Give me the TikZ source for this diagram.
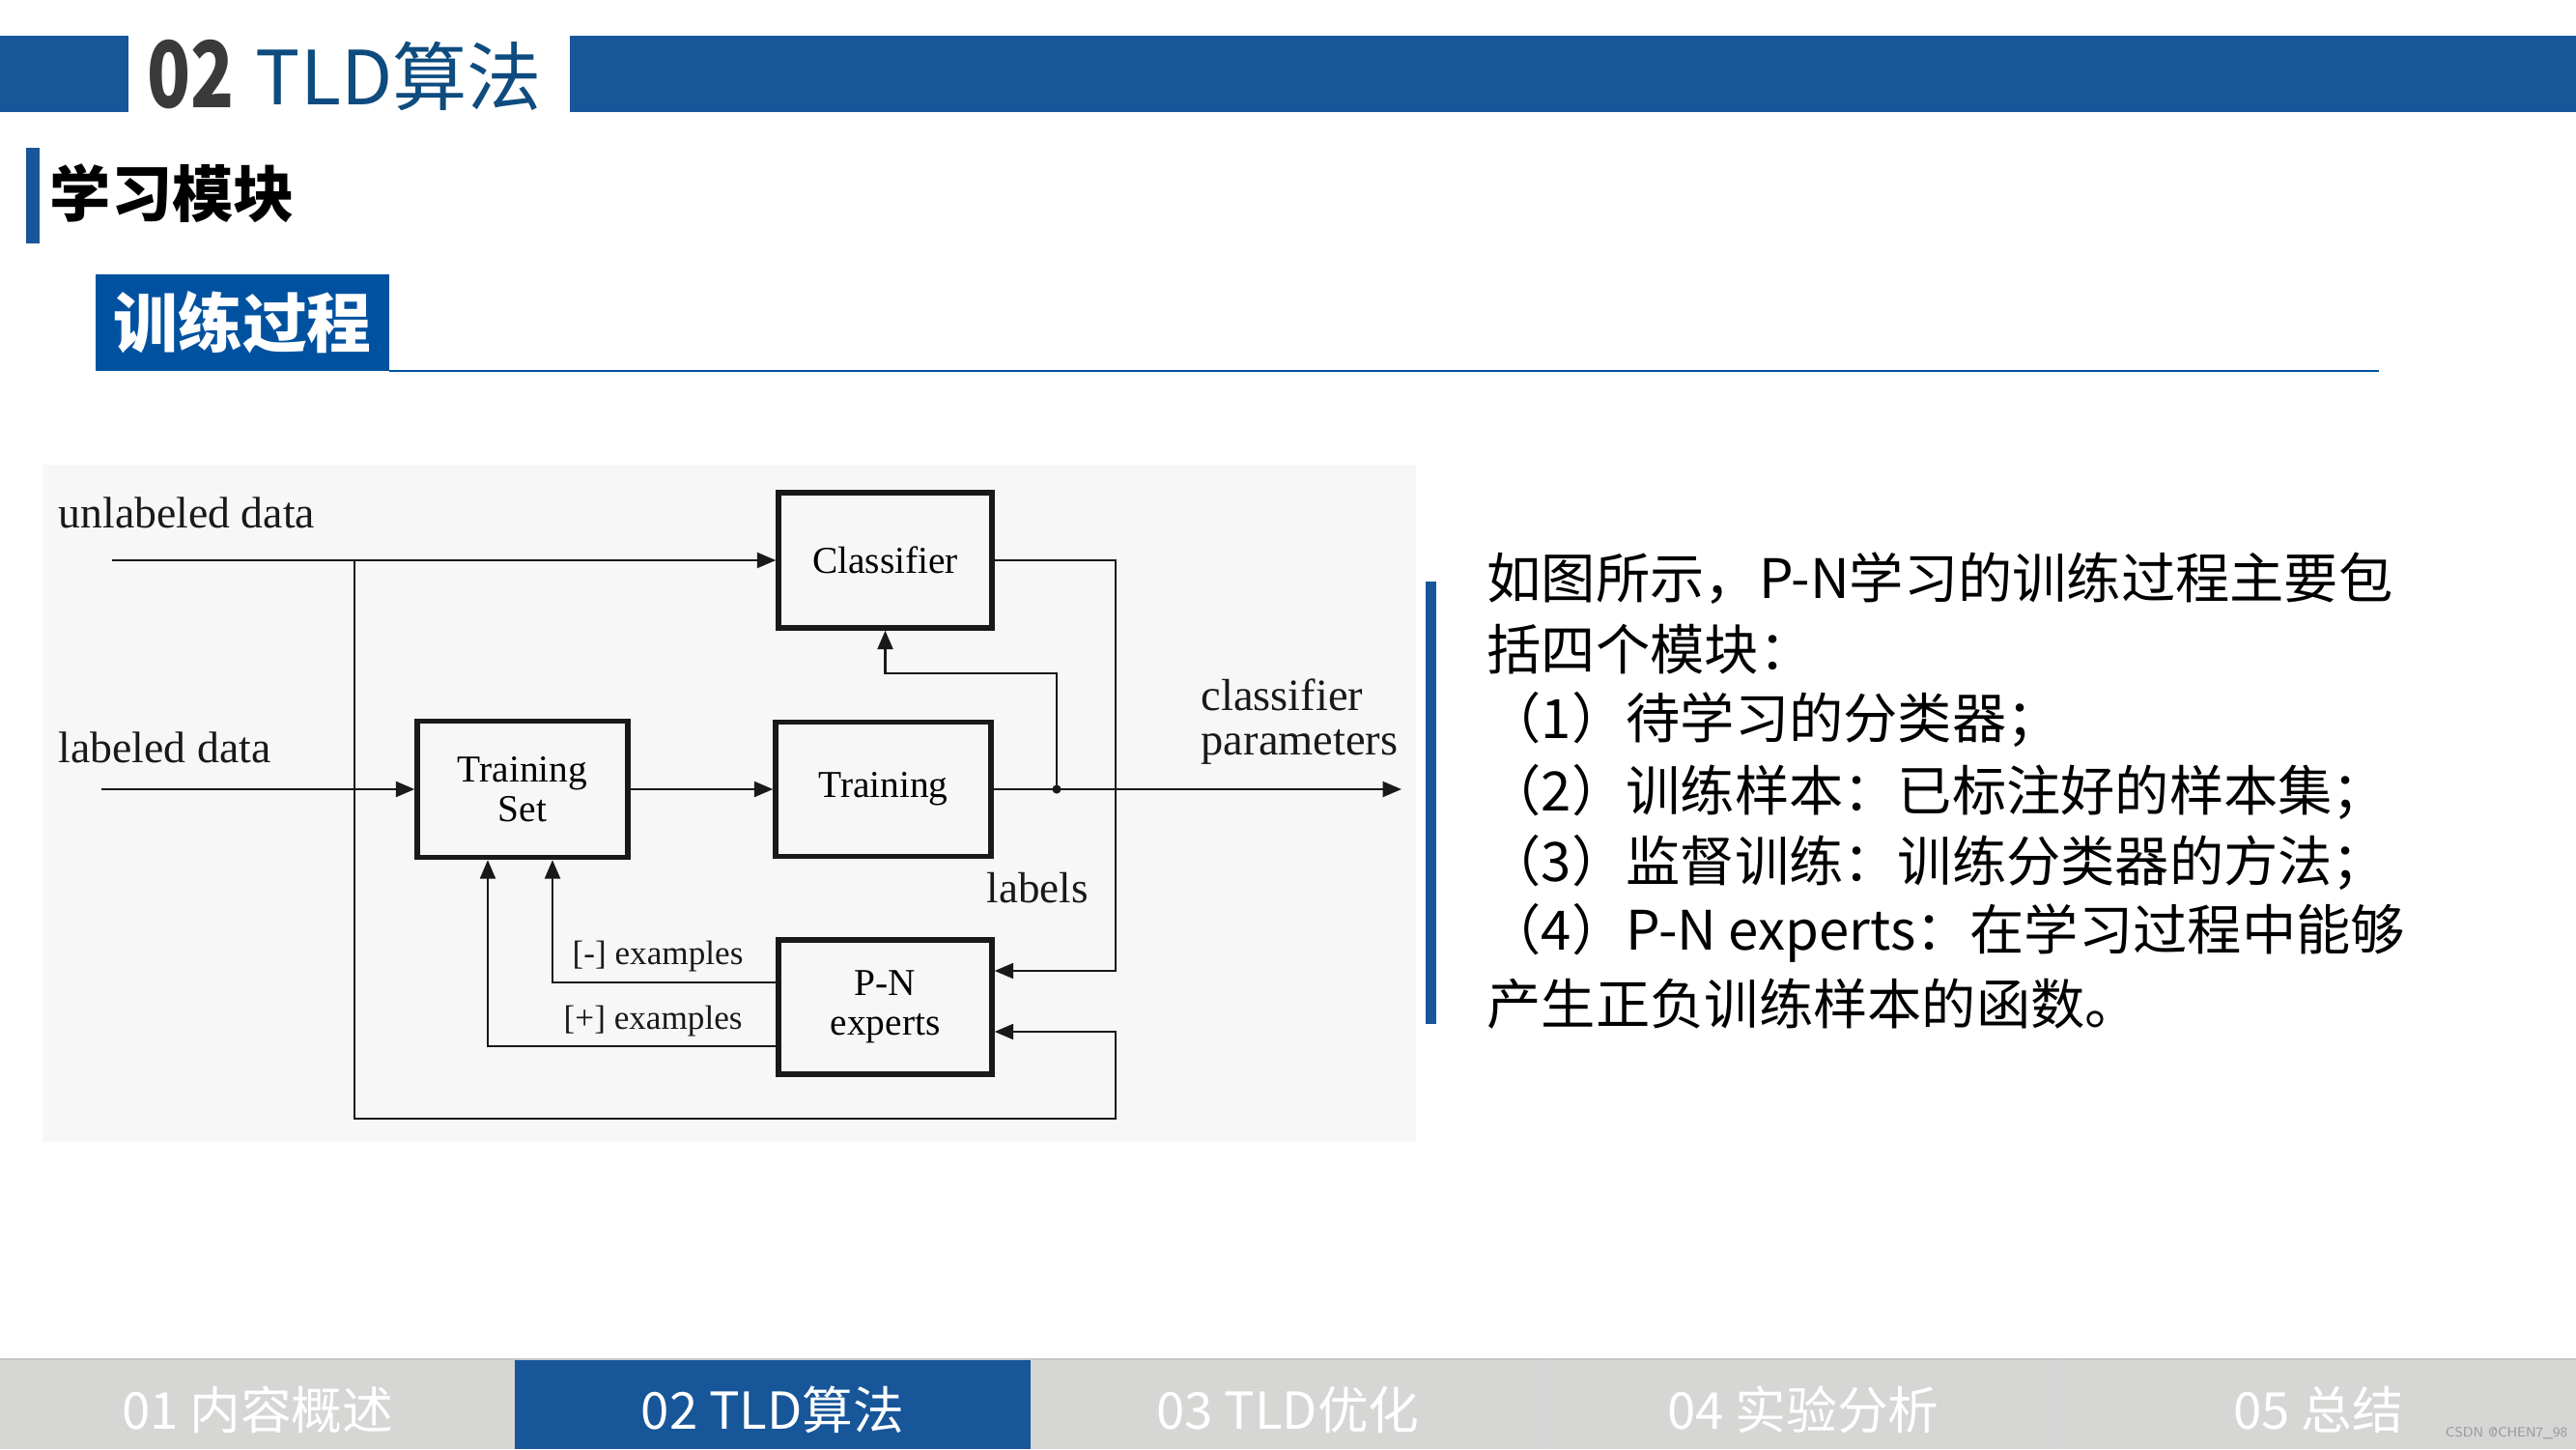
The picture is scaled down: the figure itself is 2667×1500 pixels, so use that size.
\documentclass[tikz,border=0pt]{standalone}
\usepackage{fontspec}
\setmainfont{Liberation Serif}
\newfontfamily\cjk{Noto Sans CJK SC}
\usetikzlibrary{arrows.meta}
\definecolor{barblue}{RGB}{24,86,154}
\definecolor{boxblue}{RGB}{0,82,160}
\definecolor{titleblue}{RGB}{14,76,127}
\definecolor{titlegray}{RGB}{58,58,58}
\definecolor{navgray}{RGB}{214,214,213}
\definecolor{diagbg}{RGB}{247,247,247}
\definecolor{ink}{RGB}{25,25,25}
\begin{document}
\begin{tikzpicture}[x=0.01cm,y=-0.01cm,
  blk/.style={draw=ink,line width=1.5pt,inner sep=0pt,align=center,font=\fontsize{11.2}{11.7}\selectfont},
  conn/.style={draw=ink,line width=0.7pt},
  arr/.style={conn,-{Triangle[length=5.5pt,width=4.5pt]}},
  lbl/.style={anchor=base west,inner sep=0pt,text=ink},
  para/.style={anchor=west,inner sep=0pt,font=\cjk\fontsize{16}{20}\selectfont,text=black},
  navtxt/.style={font=\cjk\fontsize{15}{18}\selectfont,text=white}]
\useasboundingbox (0,0) rectangle (2667,1500);
\fill[white] (0,0) rectangle (2667,1500);

% ---------- header ----------
\fill[barblue] (0,37) rectangle (133,116);
\fill[barblue] (590,37) rectangle (2667,116);
\node[anchor=base west,inner sep=0pt,text=titlegray,font=\cjk\bfseries\fontsize{27}{30}\selectfont,xscale=0.78] (num) at (152,112) {02};
\node[anchor=base west,inner sep=0pt,text=titleblue,font=\cjk\fontsize{22}{26}\selectfont] (title) at (264,109) {TLD算法};

\fill[barblue] (27,153) rectangle (41,252);
\node[anchor=west,inner sep=0pt,font=\cjk\bfseries\fontsize{18}{22}\selectfont] (sub) at (51,200) {学习模块};

\fill[boxblue] (99,284) rectangle (403,384);
\node[inner sep=0pt,text=white,font=\cjk\bfseries\fontsize{19}{22}\selectfont] (sec) at (251,334) {训练过程};
\draw[boxblue,line width=0.8pt] (403,384) -- (2463,384);

% ---------- diagram ----------
\fill[diagbg] (44,481) rectangle (1466,1182);

\node[blk,minimum width=2.21cm,minimum height=1.40cm] (cls) at (916.5,580) {Classifier};
\node[blk,minimum width=2.18cm,minimum height=1.41cm] (ts) at (541,817) {Training\\Set};
\node[blk,minimum width=2.23cm,minimum height=1.39cm] (tr) at (914.5,817) {Training};
\node[blk,minimum width=2.21cm,minimum height=1.39cm] (pn) at (916.5,1042.5) {P-N\\experts};

\node[lbl,font=\fontsize{13}{15}\selectfont] (ulab) at (60,546) {unlabeled data};
\node[lbl,font=\fontsize{13}{15}\selectfont] (llab) at (60,789) {labeled data};
\node[lbl,font=\fontsize{13.2}{15}\selectfont] (cp1) at (1243,735) {classifier};
\node[lbl,font=\fontsize{13.2}{15}\selectfont] (cp2) at (1243,781) {parameters};
\node[lbl,font=\fontsize{12.8}{15}\selectfont] (lab) at (1021,934) {labels};
\node[lbl,font=\fontsize{10}{12}\selectfont] (neg) at (592,998) {[-] examples};
\node[lbl,font=\fontsize{10}{12}\selectfont] (pos) at (583,1065) {[+] examples};

\coordinate (uin) at (116,580);
\coordinate (lin) at (105,817);
\coordinate (j1) at (367,580);
\coordinate (j2) at (1094,817);
\coordinate (out) at (1451,817);

\draw[arr] (uin) -- (cls.west);
\draw[arr] (lin) -- (ts.west);
\draw[arr] (ts.east) -- (tr.west);
\draw[arr] (tr.east) -- (out);
\fill[ink] (j2) circle (1.3pt);
\draw[arr] (j2) -- (1094,697) -| (cls.south);
\draw[arr] (cls.east) -- (1155,580) -- (1155,1005) -- (pn.east |- 0,1005);
\draw[arr] (j1) -- (367,1158) -- (1155,1158) -- (1155,1068) -- (pn.east |- 0,1068);
\draw[arr] (pn.west |- 0,1017) -| (ts.south -| 572,0);
\draw[arr] (pn.west |- 0,1083) -| (ts.south -| 505,0);

% ---------- text panel ----------
\fill[barblue] (1476,602) rectangle (1487,1060);
\node[para] (p1) at (1539,599) {如图所示，P-N学习的训练过程主要包};
\node[para] (p2) at (1539,672) {括四个模块：};
\node[para] (p3) at (1539,745) {（1）待学习的分类器；};
\node[para] (p4) at (1539,820) {（2）训练样本：已标注好的样本集；};
\node[para] (p5) at (1539,893) {（3）监督训练：训练分类器的方法；};
\node[para] (p6) at (1539,966) {（4）P-N experts：在学习过程中能够};
\node[para] (p7) at (1539,1039) {产生正负训练样本的函数。};

% ---------- bottom navigation ----------
\fill[navgray] (0,1407) rectangle (2667,1500);
\fill[barblue] (533.4,1407) rectangle (1066.8,1500);
\draw[gray!45,line width=0.6pt] (0,1407) -- (2667,1407);
\draw[gray!30,line width=0.4pt] (1600.2,1407) -- (1600.2,1500);
\draw[gray!30,line width=0.4pt] (2133.6,1407) -- (2133.6,1500);
\node[navtxt] (n1) at (266.7,1459) {01 内容概述};
\node[navtxt] (n2) at (800.1,1459) {02 TLD算法};
\node[navtxt] (n3) at (1333.5,1459) {03 TLD优化};
\node[navtxt] (n4) at (1866.9,1459) {04 实验分析};
\node[navtxt] (n5) at (2400.3,1459) {05 总结};
\node[font=\sffamily\fontsize{4}{5}\selectfont,text=gray!80] (wm) at (2595,1484) {CSDN @CHEN7\_98};
\end{tikzpicture}
\end{document}
